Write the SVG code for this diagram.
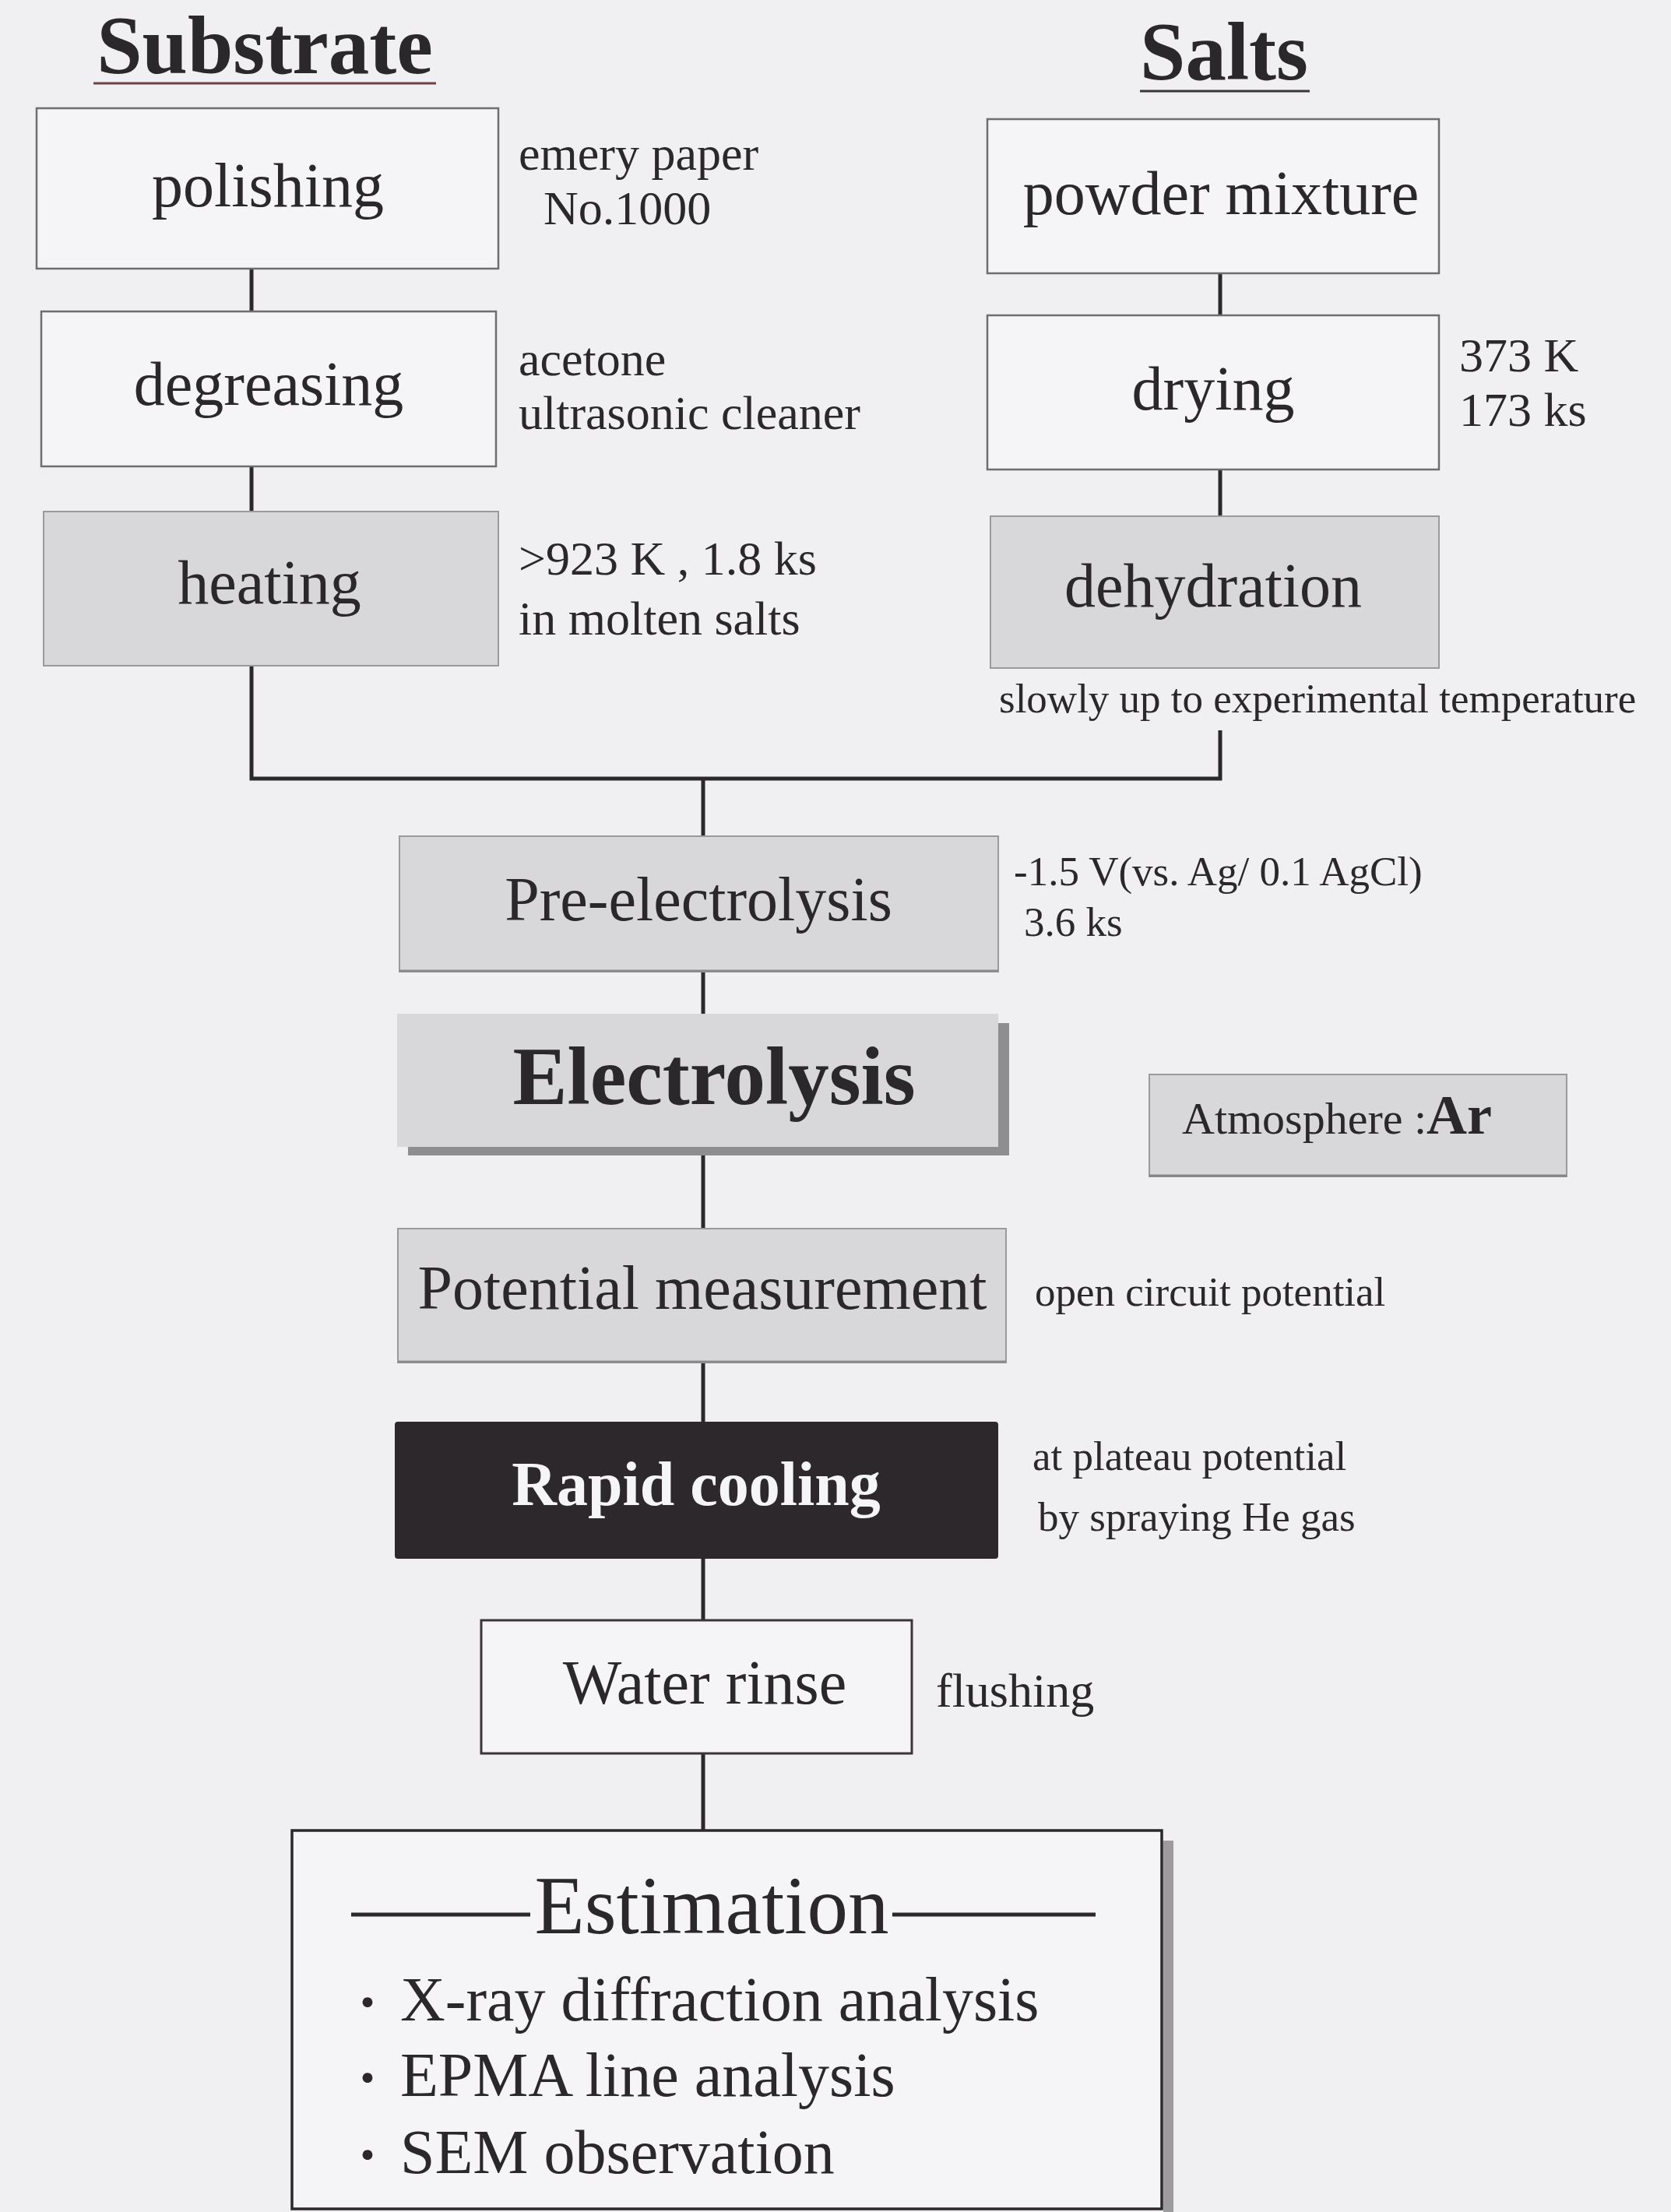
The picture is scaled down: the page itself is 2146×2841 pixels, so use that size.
<svg xmlns="http://www.w3.org/2000/svg" width="2146" height="2841" viewBox="0 0 2146 2841">
<defs>
<style>
text{font-family:"Liberation Serif","Times New Roman",serif;fill:#2b282b}
.lbl{font-size:80px;text-anchor:middle}
.bold{font-weight:bold}
.note{font-size:62px}
.small{font-size:53px}
.white{fill:#f5f4f6;stroke:#6e6d70;stroke-width:2.5}
.gray{fill:#d8d7da;stroke:#9a999c;stroke-width:2}
.wire{stroke:#2b282b;stroke-width:5;fill:none;stroke-linecap:butt}
</style>
</defs>
<rect x="0" y="0" width="2146" height="2841" fill="#f0eff1"/>

<g id="title-substrate">
<text x="340" y="94" font-size="105" font-weight="bold" text-anchor="middle">Substrate</text>
<line x1="120" y1="107" x2="560" y2="107" stroke="#6b4446" stroke-width="3"/>
</g>
<g id="title-salts">
<text x="1572" y="102" font-size="105" font-weight="bold" text-anchor="middle">Salts</text>
<line x1="1464" y1="117" x2="1682" y2="117" stroke="#3a3638" stroke-width="3"/>
</g>

<g id="connectors">
<line class="wire" x1="323" y1="345" x2="323" y2="400"/>
<line class="wire" x1="323" y1="599" x2="323" y2="657"/>
<polyline class="wire" points="323,855 323,1000 1567,1000 1567,938"/>
<line class="wire" x1="1567" y1="351" x2="1567" y2="405"/>
<line class="wire" x1="1567" y1="603" x2="1567" y2="663"/>
<line class="wire" x1="903" y1="1000" x2="903" y2="1074"/>
<line class="wire" x1="903" y1="1248" x2="903" y2="1302"/>
<line class="wire" x1="903" y1="1483" x2="903" y2="1578"/>
<line class="wire" x1="903" y1="1750" x2="903" y2="1826"/>
<line class="wire" x1="903" y1="2002" x2="903" y2="2081"/>
<line class="wire" x1="903" y1="2252" x2="903" y2="2351"/>
</g>

<g id="polishing">
<rect class="white" x="47" y="139" width="593" height="206"/>
<text class="lbl" x="344" y="265">polishing</text>
<text class="note" x="666" y="218">emery paper</text>
<text class="note" x="698" y="288">No.1000</text>
</g>

<g id="degreasing">
<rect class="white" x="53" y="400" width="584" height="199"/>
<text class="lbl" x="345" y="520">degreasing</text>
<text class="note" x="666" y="482">acetone</text>
<text class="note" x="666" y="551">ultrasonic cleaner</text>
</g>

<g id="heating">
<rect class="gray" x="56" y="657" width="584" height="198"/>
<text class="lbl" x="346" y="775">heating</text>
<text class="note" x="666" y="738" font-size="59">&gt;923 K , 1.8 ks</text>
<text class="note" x="666" y="815">in molten salts</text>
</g>

<g id="powder-mixture">
<rect class="white" x="1268" y="153" width="580" height="198"/>
<text class="lbl" x="1568" y="275">powder mixture</text>
</g>

<g id="drying">
<rect class="white" x="1268" y="405" width="580" height="198"/>
<text class="lbl" x="1558" y="526">drying</text>
<text class="note" x="1874" y="477">373 K</text>
<text class="note" x="1874" y="547">173 ks</text>
</g>

<g id="dehydration">
<rect class="gray" x="1272" y="663" width="576" height="195"/>
<text class="lbl" x="1558" y="779">dehydration</text>
<text class="small" x="1283" y="915">slowly up to experimental temperature</text>
</g>

<g id="pre-electrolysis">
<rect class="gray" x="513" y="1074" width="769" height="174"/>
<line x1="513" y1="1247" x2="1282" y2="1247" stroke="#8a898c" stroke-width="3"/>
<text class="lbl" x="897" y="1182">Pre-electrolysis</text>
<text class="small" x="1302" y="1137" font-size="52">-1.5 V(vs. Ag/ 0.1 AgCl)</text>
<text class="small" x="1315" y="1202">3.6 ks</text>
</g>

<g id="electrolysis">
<rect x="524" y="1314" width="772" height="170" fill="#8e8d90"/>
<rect x="510" y="1302" width="772" height="171" fill="#d8d7da"/>
<text x="917" y="1418" font-size="105" font-weight="bold" text-anchor="middle">Electrolysis</text>
</g>

<g id="atmosphere">
<rect class="gray" x="1476" y="1380" width="536" height="131"/>
<line x1="1476" y1="1510" x2="2012" y2="1510" stroke="#858487" stroke-width="3"/>
<text x="1518" y="1456" font-size="58">Atmosphere :<tspan font-weight="bold" font-size="72">Ar</tspan></text>
</g>

<g id="potential-measurement">
<rect class="gray" x="511" y="1578" width="781" height="172"/>
<line x1="511" y1="1749" x2="1292" y2="1749" stroke="#8a898c" stroke-width="3"/>
<text class="lbl" x="902" y="1681" font-size="78">Potential measurement</text>
<text class="small" x="1329" y="1677" font-size="52">open circuit potential</text>
</g>

<g id="rapid-cooling">
<rect x="507" y="1826" width="775" height="176" rx="4" fill="#2c282b"/>
<text class="lbl bold" x="894" y="1933" style="fill:#f5f4f6">Rapid cooling</text>
<text class="small" x="1326" y="1888">at plateau potential</text>
<text class="small" x="1333" y="1966">by spraying He gas</text>
</g>

<g id="water-rinse">
<rect x="618" y="2081" width="553" height="171" fill="#f5f4f6" stroke="#3a3638" stroke-width="3"/>
<text class="lbl" x="905" y="2188" font-size="78">Water rinse</text>
<text class="note" x="1202" y="2192" font-size="61">flushing</text>
</g>

<g id="estimation">
<rect x="1494" y="2364" width="13" height="477" fill="#9c9b9e"/>
<rect x="375" y="2351" width="1117" height="486" fill="#f5f4f6" stroke="#2b282b" stroke-width="3.5"/>
<line x1="451" y1="2459" x2="681" y2="2459" stroke="#2b282b" stroke-width="5"/>
<line x1="1146" y1="2459" x2="1407" y2="2459" stroke="#2b282b" stroke-width="5"/>
<text x="914" y="2483" font-size="105" text-anchor="middle">Estimation</text>
<text x="472" y="2595" font-size="80"><tspan text-anchor="middle" font-family="'Noto Sans CJK JP',sans-serif" font-size="60">・</tspan><tspan x="514">X-ray diffraction analysis</tspan></text>
<text x="472" y="2692" font-size="80"><tspan text-anchor="middle" font-family="'Noto Sans CJK JP',sans-serif" font-size="60">・</tspan><tspan x="514">EPMA line analysis</tspan></text>
<text x="472" y="2791" font-size="80"><tspan text-anchor="middle" font-family="'Noto Sans CJK JP',sans-serif" font-size="60">・</tspan><tspan x="514">SEM observation</tspan></text>
</g>
</svg>
